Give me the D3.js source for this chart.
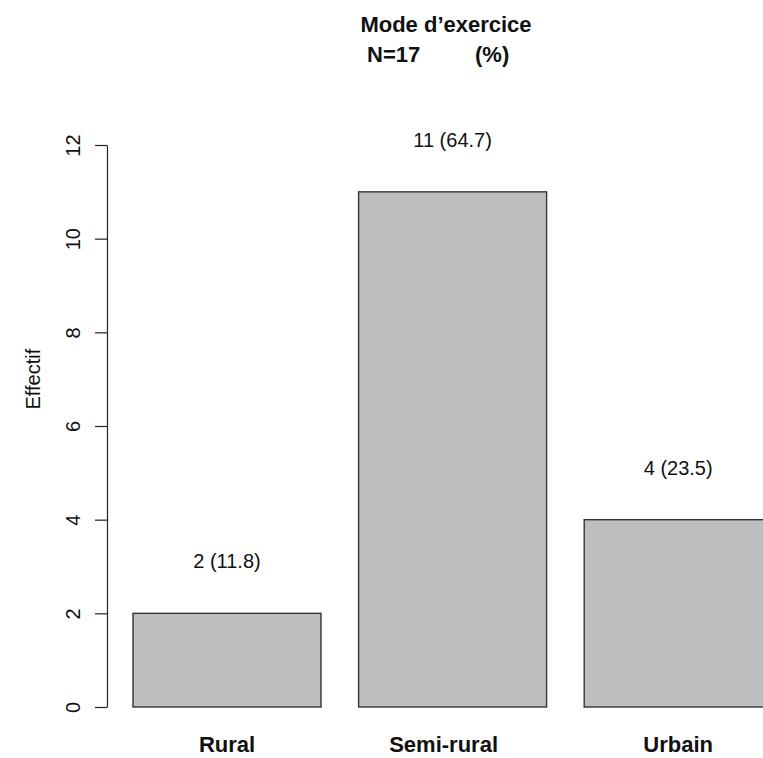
<!DOCTYPE html>
<html>
<head>
<meta charset="utf-8">
<script src="https://cdn.jsdelivr.net/npm/d3@7"></script>
<style>
  body { margin: 0; background: #fff; }
  svg { display: block; font-family: "Liberation Sans", Arial, Helvetica, sans-serif; }
</style>
</head>
<body>
<svg id="chart" width="763" height="758"></svg>
<script>
// data
const categories = ["Rural", "Semi-rural", "Urbain"];
const counts = [2, 11, 4];
const percents = ["11.8", "64.7", "23.5"];
const yTicks = [0, 2, 4, 6, 8, 10, 12];

const svg = d3.select("#chart");

// barplot style: bars of width 1, space 0.2 (units)
const x = d3.scaleLinear().domain([0, 1]).range([95.4, 283.4]);
const y = d3.scaleLinear().domain([0, 12]).range([707, 145]);
const barLeft = (i) => 0.2 + i * 1.2;

// bars
svg.append("g")
  .selectAll("rect")
  .data(counts)
  .join("rect")
    .attr("x", (d, i) => x(barLeft(i)))
    .attr("y", d => y(d))
    .attr("width", x(1) - x(0))
    .attr("height", d => y(0) - y(d))
    .attr("fill", "#bebebe")
    .attr("stroke", "#333")
    .attr("stroke-width", 1.4);

// count (percent) labels above bars
svg.append("g")
  .selectAll("text")
  .data(counts)
  .join("text")
    .attr("x", (d, i) => x(barLeft(i) + 0.5))
    .attr("y", d => y(d) - 45)
    .attr("text-anchor", "middle")
    .attr("font-size", 20)
    .attr("fill", "#111")
    .text((d, i) => `${d} (${percents[i]})`);

// category names
svg.append("g")
  .selectAll("text")
  .data(categories)
  .join("text")
    .attr("x", (d, i) => x(barLeft(i) + 0.5))
    .attr("dx", d => d === "Semi-rural" ? -9 : 0)
    .attr("y", 752)
    .attr("text-anchor", "middle")
    .attr("font-size", 22)
    .attr("font-weight", "bold")
    .attr("fill", "#111")
    .text(d => d);

// y axis, R style with rotated tick labels
const yAxis = svg.append("g")
  .attr("transform", "translate(107,0)")
  .call(d3.axisLeft(y).tickValues(yTicks).tickSize(12).tickSizeOuter(0).tickFormat(d3.format("d")));

yAxis.select(".domain").attr("stroke", "#222").attr("stroke-width", 1.2);
yAxis.selectAll(".tick line").attr("stroke", "#222").attr("stroke-width", 1.2);
yAxis.selectAll(".tick text")
  .attr("x", 0)
  .attr("y", 0)
  .attr("dy", 0)
  .attr("transform", "translate(-27,0) rotate(-90)")
  .attr("text-anchor", "middle")
  .attr("font-size", 20)
  .attr("font-family", "Liberation Sans, Arial, sans-serif")
  .attr("fill", "#111");

// y axis title
svg.append("text")
  .attr("transform", `translate(40,${y(7)}) rotate(-90)`)
  .attr("text-anchor", "middle")
  .attr("font-size", 20)
  .attr("fill", "#111")
  .text("Effectif");

// main title, two lines
svg.append("text")
  .attr("x", 446)
  .attr("y", 32)
  .attr("text-anchor", "middle")
  .attr("font-size", 22)
  .attr("font-weight", "bold")
  .attr("fill", "#111")
  .text("Mode d\u2019exercice");

const sub = svg.append("text")
  .attr("y", 62)
  .attr("font-size", 22)
  .attr("font-weight", "bold")
  .attr("fill", "#111");
sub.append("tspan").attr("x", 367).text("N=17");
sub.append("tspan").attr("x", 475).text("(%)");
</script>
</body>
</html>
